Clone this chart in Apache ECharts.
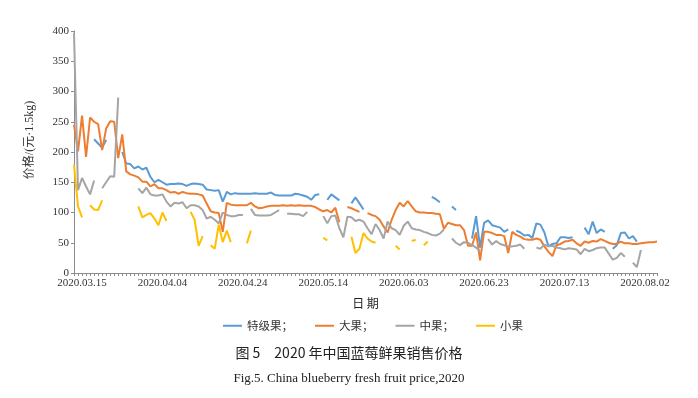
<!DOCTYPE html>
<html><head><meta charset="utf-8">
<script src="https://cdn.jsdelivr.net/npm/echarts@6/dist/echarts.min.js"></script>
<style>html,body{margin:0;padding:0;background:#fff}#c{width:698px;height:398px}</style>
</head><body><div id="c"></div>
<script>
var n = null;
var categories = [
'2020.03.13','2020.03.14','2020.03.15','2020.03.16','2020.03.17','2020.03.18','2020.03.19','2020.03.20','2020.03.21','2020.03.22',
'2020.03.23','2020.03.24','2020.03.25','2020.03.26','2020.03.27','2020.03.28','2020.03.29','2020.03.30','2020.03.31',
'2020.04.01','2020.04.02','2020.04.03','2020.04.04','2020.04.05','2020.04.06','2020.04.07','2020.04.08','2020.04.09','2020.04.10',
'2020.04.11','2020.04.12','2020.04.13','2020.04.14','2020.04.15','2020.04.16','2020.04.17','2020.04.18','2020.04.19','2020.04.20',
'2020.04.21','2020.04.22','2020.04.23','2020.04.24','2020.04.25','2020.04.26','2020.04.27','2020.04.28','2020.04.29','2020.04.30',
'2020.05.01','2020.05.02','2020.05.03','2020.05.04','2020.05.05','2020.05.06','2020.05.07','2020.05.08','2020.05.09','2020.05.10',
'2020.05.11','2020.05.12','2020.05.13','2020.05.14','2020.05.15','2020.05.16','2020.05.17','2020.05.18','2020.05.19','2020.05.20',
'2020.05.21','2020.05.22','2020.05.23','2020.05.24','2020.05.25','2020.05.26','2020.05.27','2020.05.28','2020.05.29','2020.05.30','2020.05.31',
'2020.06.01','2020.06.02','2020.06.03','2020.06.04','2020.06.05','2020.06.06','2020.06.07','2020.06.08','2020.06.09','2020.06.10',
'2020.06.11','2020.06.12','2020.06.13','2020.06.14','2020.06.15','2020.06.16','2020.06.17','2020.06.18','2020.06.19','2020.06.20',
'2020.06.21','2020.06.22','2020.06.23','2020.06.24','2020.06.25','2020.06.26','2020.06.27','2020.06.28','2020.06.29','2020.06.30',
'2020.07.01','2020.07.02','2020.07.03','2020.07.04','2020.07.05','2020.07.06','2020.07.07','2020.07.08','2020.07.09','2020.07.10',
'2020.07.11','2020.07.12','2020.07.13','2020.07.14','2020.07.15','2020.07.16','2020.07.17','2020.07.18','2020.07.19','2020.07.20',
'2020.07.21','2020.07.22','2020.07.23','2020.07.24','2020.07.25','2020.07.26','2020.07.27','2020.07.28','2020.07.29','2020.07.30','2020.07.31',
'2020.08.01','2020.08.02','2020.08.03','2020.08.04','2020.08.05'
];
var labeledDates = ['2020.03.15','2020.04.04','2020.04.24','2020.05.14','2020.06.03','2020.06.23','2020.07.13','2020.08.02'];
var yTicks = [0,50,100,150,200,250,300,350,400];

var teji = [
n,n,n,n,n,221,214,207,220,n,
n,n,200,181,180,173,176,171,174,159,
150,154,150,146,147,147,148,147,144,147,
148,147,146,138,137,136,137,118,134,130,
132,131,131,131,131,132,131,131,131,133,
129,128,128,128,128,131,130,128,126,121,
129,130,n,121,130,125,120,n,n,115,
125,115,105,n,n,n,n,n,n,n,
n,n,n,n,n,n,n,n,n,126,
122,117,n,n,110,104,n,n,n,57,
94,42,83,87,79,77,75,68,72,n,
70,67,62,63,58,82,80,67,44,48,
49,59,59,58,59,n,n,75,64,85,
66,72,68,n,40,46,66,67,57,61,
52,n,n,n,n,n
];
var daguo = [
245,201,260,192,257,250,246,203,239,251,
250,190,229,168,163,161,158,151,151,143,
147,140,140,137,133,134,131,134,132,131,
131,130,128,115,102,100,99,68,116,113,
112,112,112,112,116,110,107,108,110,111,
111,111,112,111,112,111,112,111,111,111,
109,105,102,104,100,108,84,n,109,107,
104,101,n,99,96,94,88,77,67,88,
104,116,110,119,110,102,100,100,99,99,
98,97,73,83,81,79,79,71,45,45,
67,21,68,68,66,63,63,61,33,68,
63,60,56,55,55,57,55,44,35,28,
46,48,52,53,55,49,45,52,50,53,
52,56,53,50,48,48,52,49,49,48,
48,49,50,51,51,52
];
var zhongguo = [
397,137,157,143,130,153,n,140,150,160,
159,290,n,n,n,n,140,132,141,130,
128,128,130,118,110,116,115,117,107,112,
112,110,104,90,93,88,82,100,96,94,
94,96,96,n,106,96,95,95,95,96,
100,104,n,98,98,97,97,94,101,n,
n,n,94,82,94,95,74,59,93,92,
86,88,85,74,64,81,71,57,85,74,
71,63,78,85,74,72,71,68,66,63,
62,65,72,n,57,50,46,51,50,46,
42,36,n,56,47,53,48,46,44,44,
45,47,40,n,n,42,40,47,44,45,
42,41,39,41,40,39,31,40,36,38,
41,42,42,32,22,25,33,27,n,17,
10,38,n,n,n,n
];
var xiaoguo = [
179,110,92,n,112,105,104,120,n,n,
n,n,n,n,n,n,110,92,96,99,
90,79,100,86,n,n,n,n,n,101,
88,45,61,n,46,40,80,51,70,51,
n,n,n,49,70,n,n,n,n,n,
n,n,n,n,n,n,n,n,n,n,
n,n,58,54,n,n,n,n,n,60,
33,40,66,57,52,50,n,n,n,n,
45,39,n,n,53,55,n,46,52,n,
n,n,n,n,n,n,n,n,n,n,
n,n,n,n,n,n,n,n,n,n,
n,n,n,n,n,n,n,n,n,n,
n,n,n,n,n,n,n,n,n,n,
n,n,n,n,n,n,n,n,n,n,
n,n,n,n,n,n
];
var seriesNames = ['特级果；','大果；','中果；','小果'];
var seriesData = [teji, daguo, zhongguo, xiaoguo];
var colors = ['#5B9BD5','#ED7D31','#A5A5A5','#FFC000'];

var serif = "'Times New Roman','Liberation Serif','Noto Sans CJK SC',serif";
var chart = echarts.init(document.getElementById('c'));
chart.setOption({
  animation: false,
  color: colors,
  title: [
    {text: '图 5　2020 年中国蓝莓鲜果销售价格', left: 'center', top: 341,
     textStyle: {fontSize: 14, fontWeight: 'normal', color: '#222', fontFamily: "'Noto Sans CJK SC',sans-serif"}},
    {text: 'Fig.5. China blueberry fresh fruit price,2020', left: 'center', top: 367,
     textStyle: {fontSize: 13, fontWeight: 'normal', color: '#222', fontFamily: serif}}
  ],
  legend: {
    data: seriesNames, top: 315, left: 218, itemGap: 22,
    icon: 'rect', itemWidth: 19, itemHeight: 2,
    textStyle: {fontSize: 11.5, color: '#333', fontFamily: "'Noto Sans CJK SC',sans-serif"}
  },
  grid: {left: 74, right: 41, top: 31, bottom: 125, containLabel: false},
  xAxis: {
    type: 'category', data: categories, boundaryGap: false,
    name: '日 期', nameLocation: 'middle', nameGap: 24,
    nameTextStyle: {fontSize: 12, color: '#222', fontFamily: "'Noto Sans CJK SC',sans-serif"},
    axisLine: {lineStyle: {color: '#8c8c8c', width: 1}},
    axisTick: {show: true, interval: 0, length: 3, lineStyle: {color: '#8c8c8c'}},
    axisLabel: {
      interval: function (idx, val) { return labeledDates.indexOf(val) >= 0; },
      fontSize: 11, color: '#333', fontFamily: serif, margin: 5, showMinLabel: true
    },
    splitLine: {show: false}
  },
  yAxis: {
    type: 'value', min: yTicks[0], max: yTicks[yTicks.length-1], interval: yTicks[1]-yTicks[0],
    name: '价格/(元·1.5kg)', nameLocation: 'middle', nameGap: 38, nameRotate: 90,
    nameTextStyle: {fontSize: 12, color: '#333', fontFamily: serif, padding: [0, 0, 0, 24]},
    axisLine: {show: true, lineStyle: {color: '#8c8c8c', width: 1}},
    axisTick: {show: true, length: 3, lineStyle: {color: '#8c8c8c'}},
    axisLabel: {fontSize: 11, color: '#333', fontFamily: serif, margin: 5},
    splitLine: {show: false}
  },
  series: seriesNames.map(function (nm, k) {
    return {
      name: nm, type: 'line', data: seriesData[k], symbol: 'none', showSymbol: false,
      connectNulls: false, smooth: false,
      lineStyle: {width: 2, color: colors[k]}, itemStyle: {color: colors[k]}
    };
  })
});
</script></body></html>
